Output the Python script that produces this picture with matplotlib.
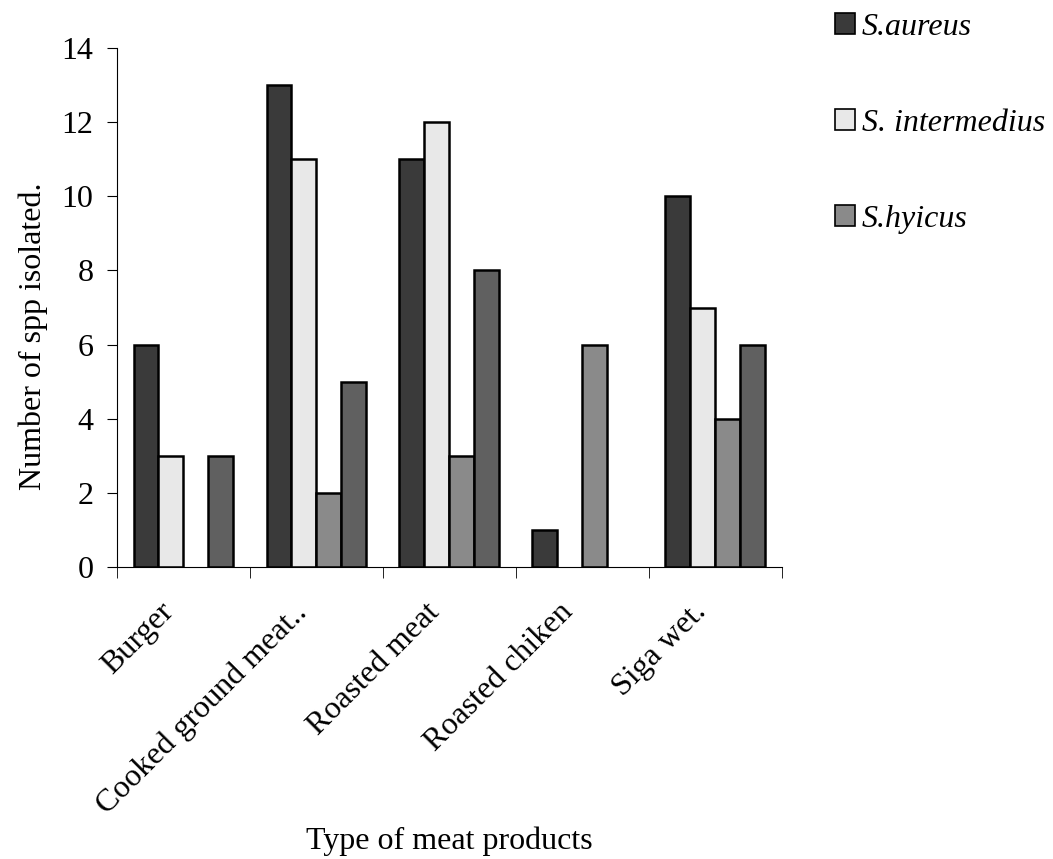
import numpy as np
import matplotlib.pyplot as plt
from matplotlib.patches import Patch
from matplotlib.transforms import ScaledTranslation

products = ["Burger", "Cooked ground meat..", "Roasted meat", "Roasted chiken", "Siga wet."]
aureus = [6, 13, 11, 1, 10]
intermedius = [3, 11, 12, 0, 7]
hyicus = [0, 2, 3, 6, 4]
fourth = [3, 5, 8, 0, 6]

series = [aureus, intermedius, hyicus, fourth]
names = ["S.aureus", "S. intermedius", "S.hyicus", None]
colors = ["#3a3a3a", "#e8e8e8", "#8a8a8a", "#606060"]

plt.rcParams['font.family'] = ['Liberation Serif', 'DejaVu Serif']
fs = 23

fig = plt.figure(figsize=(10.53, 8.59), dpi=100)
ax = fig.add_axes([0.111, 0.340, 0.6315, 0.604])

x = np.arange(len(products))
w = 0.1875
for i, vals in enumerate(series):
    # zero bars get no outline, like the original
    lw = [1.8 if v > 0 else 0 for v in vals]
    ax.bar(x + (i - 1.5) * w, vals, w, color=colors[i],
           edgecolor="black", linewidth=lw)

ax.set_xlim(-0.5, len(products) - 0.5)
ax.set_ylim(0, 14)
ax.set_yticks(range(0, 15, 2))
ax.tick_params(axis='y', labelsize=fs, direction='out', length=7, pad=10)

ax.set_xticks(x)
ax.set_xticklabels(products, rotation=45, ha='right',
                   rotation_mode='anchor', fontsize=fs)
ax.tick_params(axis='x', length=0, pad=22)
ax.set_xticks(np.arange(-0.5, len(products)), minor=True)
ax.tick_params(axis='x', which='minor', length=8, direction='out')
shift = ScaledTranslation(-0.24, 0, fig.dpi_scale_trans)
for lab in ax.get_xticklabels():
    lab.set_transform(lab.get_transform() + shift)

for s in ['top', 'right']:
    ax.spines[s].set_visible(False)

ax.set_ylabel("Number of spp isolated.", fontsize=fs)
ax.yaxis.set_label_coords(-0.104, 0.445)
ax.set_xlabel("Type of meat products", fontsize=fs, labelpad=5)

handles = [Patch(facecolor=colors[i], edgecolor="black", linewidth=1.2)
           for i in range(3)]
fig.legend(handles, names[:3], loc='upper left',
           bbox_to_anchor=(0.793, 0.985), frameon=False,
           prop={'style': 'italic', 'size': fs},
           handlelength=0.62, handleheight=0.62, handletextpad=0.22,
           labelspacing=2.1, borderpad=0, borderaxespad=0)

fig.savefig("out.png", dpi=100)
